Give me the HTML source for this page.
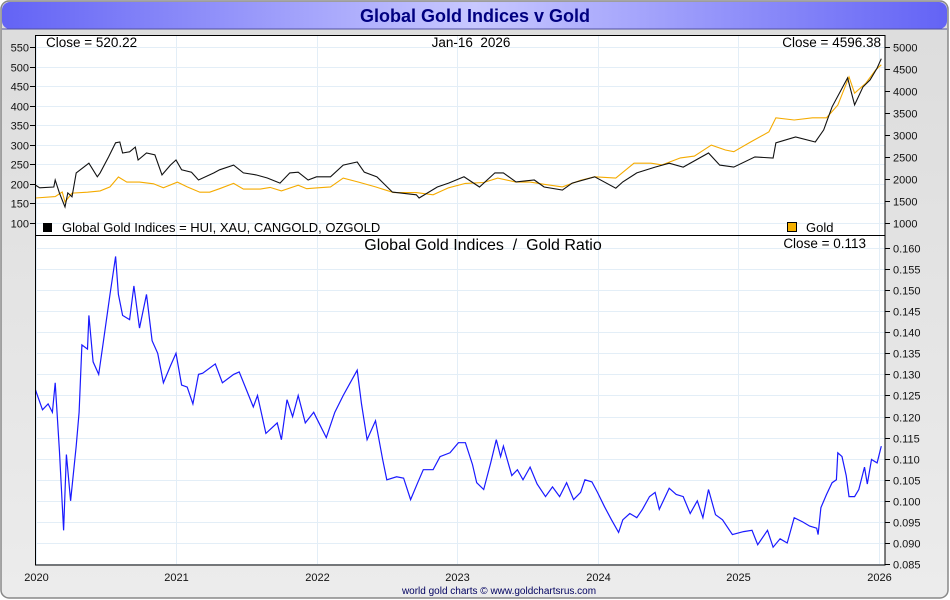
<!DOCTYPE html>
<html><head><meta charset="utf-8"><style>
html,body{margin:0;padding:0;background:#fff;}
svg{display:block;font-family:"Liberation Sans",sans-serif;}
</style></head><body>
<svg id="chart" width="950" height="600" viewBox="0 0 950 600" xmlns="http://www.w3.org/2000/svg">
<defs>
<linearGradient id="tg" x1="0" x2="1" y1="0" y2="0">
<stop offset="0" stop-color="#6363f5"/><stop offset="0.5" stop-color="#c8c8ff"/><stop offset="1" stop-color="#6363f5"/>
</linearGradient>
<linearGradient id="bg" x1="0" x2="0" y1="0" y2="1">
<stop offset="0" stop-color="#dcdcdc"/><stop offset="1" stop-color="#ececec"/>
</linearGradient>
</defs>
<rect x="1" y="1" width="947" height="597" rx="8" fill="url(#bg)" stroke="#888" stroke-width="1.5"/>
<rect x="2" y="2" width="945" height="27" rx="8" fill="url(#tg)"/>
<line x1="2" y1="29" x2="947" y2="29" stroke="#5050a0" stroke-width="1"/>
<text x="475" y="22" text-anchor="middle" font-size="18" font-weight="bold" fill="#000080">Global Gold Indices v Gold</text>
<rect x="35.5" y="35.5" width="849.5" height="529.5" fill="#fff"/>
<g id="grid"></g>
<g id="series"></g>
<rect x="35.5" y="35.5" width="849.5" height="529.5" fill="none" stroke="#000" stroke-width="1"/>
<line x1="35.5" y1="235.5" x2="885" y2="235.5" stroke="#000" stroke-width="1"/>
<g id="axes" font-size="11" fill="#111"></g>
<text x="46" y="47" font-size="13.5" fill="#000">Close = 520.22</text>
<text x="471" y="47" font-size="13.5" text-anchor="middle" fill="#000">Jan-16&#160; 2026</text>
<text x="881" y="47" font-size="13.5" text-anchor="end" fill="#000">Close = 4596.38</text>
<rect x="43" y="223" width="9" height="9" fill="#000"/>
<text x="62" y="232" font-size="13" fill="#000">Global Gold Indices = HUI, XAU, CANGOLD, OZGOLD</text>
<rect x="787.5" y="222.5" width="9" height="9" fill="#f5b000" stroke="#000" stroke-width="1"/>
<text x="806" y="232" font-size="13" fill="#000">Gold</text>
<text x="483" y="250" font-size="16" text-anchor="middle" fill="#000">Global Gold Indices&#160; /&#160; Gold Ratio</text>
<text x="866" y="248" font-size="13.5" text-anchor="end" fill="#000">Close = 0.113</text>
<text x="499" y="594" font-size="10" text-anchor="middle" fill="#000060">world gold charts © www.goldchartsrus.com</text>
</svg>
<script>
const yearTicks = [2020,2021,2022,2023,2024,2025,2026];
const ggiTicks = [100,150,200,250,300,350,400,450,500,550];
const goldTicks = [1000,1500,2000,2500,3000,3500,4000,4500,5000];
const ratioTicks = [0.085,0.090,0.095,0.100,0.105,0.110,0.115,0.120,0.125,0.130,0.135,0.140,0.145,0.150,0.155,0.160];

const goldDates = [2020.00,2020.14,2020.19,2020.21,2020.26,2020.37,2020.46,2020.53,2020.59,2020.65,2020.74,2020.84,2020.91,2021.01,2021.08,2021.17,2021.24,2021.31,2021.41,2021.48,2021.60,2021.67,2021.75,2021.87,2021.93,2022.01,2022.10,2022.19,2022.30,2022.42,2022.55,2022.71,2022.83,2022.94,2023.06,2023.19,2023.29,2023.42,2023.52,2023.62,2023.75,2023.88,2023.98,2024.13,2024.26,2024.38,2024.46,2024.59,2024.69,2024.81,2024.91,2024.97,2025.09,2025.22,2025.27,2025.40,2025.53,2025.63,2025.71,2025.79,2025.83,2025.91,2025.98,2026.02];
const goldValues = [1568,1600,1705,1480,1680,1700,1730,1820,2045,1930,1930,1890,1800,1930,1820,1700,1700,1780,1900,1770,1770,1810,1730,1860,1780,1800,1820,2020,1930,1820,1690,1690,1640,1800,1900,1920,2020,1930,1930,1880,1820,1970,2050,2020,2360,2360,2320,2480,2520,2770,2660,2620,2840,3070,3390,3340,3390,3390,3680,4320,3950,4180,4480,4596];

const ggiDates = [2020.00,2020.03,2020.13,2020.14,2020.17,2020.21,2020.23,2020.26,2020.29,2020.38,2020.44,2020.46,2020.52,2020.57,2020.60,2020.62,2020.67,2020.71,2020.73,2020.79,2020.85,2020.90,2020.96,2021.00,2021.04,2021.11,2021.16,2021.27,2021.31,2021.41,2021.48,2021.57,2021.65,2021.74,2021.81,2021.87,2021.94,2022.00,2022.10,2022.19,2022.29,2022.34,2022.43,2022.54,2022.71,2022.73,2022.86,2022.94,2023.05,2023.16,2023.27,2023.33,2023.42,2023.55,2023.62,2023.75,2023.82,2023.98,2024.13,2024.18,2024.28,2024.41,2024.51,2024.61,2024.79,2024.87,2024.97,2025.12,2025.25,2025.27,2025.41,2025.55,2025.61,2025.67,2025.78,2025.83,2025.89,2025.94,2025.99,2026.02];
const ggiValues = [197,190,192,210,177,141,177,167,228,253,218,228,269,305,307,279,282,294,261,279,274,223,248,261,236,230,210,228,236,248,228,223,215,202,228,230,210,218,218,248,256,230,218,179,172,164,192,202,218,192,228,228,205,210,192,184,202,218,189,205,228,243,253,243,279,248,243,269,266,305,320,307,338,397,471,402,448,466,496,520];

const ratioDates = [2020.00,2020.05,2020.09,2020.12,2020.14,2020.17,2020.20,2020.22,2020.25,2020.29,2020.31,2020.33,2020.37,2020.38,2020.41,2020.45,2020.48,2020.53,2020.57,2020.59,2020.62,2020.67,2020.70,2020.74,2020.79,2020.83,2020.87,2020.91,2020.96,2021.00,2021.04,2021.08,2021.12,2021.16,2021.19,2021.28,2021.33,2021.41,2021.45,2021.51,2021.55,2021.58,2021.64,2021.72,2021.75,2021.79,2021.83,2021.87,2021.92,2021.98,2022.01,2022.07,2022.13,2022.19,2022.24,2022.29,2022.32,2022.36,2022.42,2022.47,2022.50,2022.57,2022.62,2022.67,2022.72,2022.76,2022.83,2022.88,2022.95,2023.01,2023.06,2023.11,2023.14,2023.19,2023.24,2023.28,2023.31,2023.33,2023.39,2023.43,2023.47,2023.52,2023.57,2023.63,2023.68,2023.73,2023.78,2023.83,2023.88,2023.91,2023.96,2024.00,2024.05,2024.10,2024.15,2024.18,2024.23,2024.28,2024.32,2024.37,2024.41,2024.44,2024.51,2024.56,2024.61,2024.66,2024.71,2024.75,2024.79,2024.84,2024.89,2024.96,2025.04,2025.10,2025.14,2025.21,2025.25,2025.30,2025.35,2025.40,2025.46,2025.51,2025.56,2025.57,2025.59,2025.63,2025.67,2025.70,2025.71,2025.74,2025.77,2025.79,2025.83,2025.86,2025.90,2025.92,2025.95,2025.99,2026.02];
const ratioValues = [0.1263,0.1216,0.123,0.121,0.128,0.112,0.093,0.111,0.100,0.113,0.121,0.137,0.136,0.144,0.133,0.130,0.137,0.149,0.158,0.149,0.144,0.143,0.151,0.141,0.149,0.138,0.135,0.128,0.132,0.135,0.1275,0.127,0.123,0.130,0.1303,0.1325,0.128,0.130,0.1306,0.1256,0.1223,0.125,0.116,0.1185,0.1145,0.124,0.120,0.125,0.1185,0.121,0.119,0.115,0.121,0.125,0.128,0.131,0.123,0.1145,0.119,0.110,0.105,0.1057,0.1054,0.1003,0.1043,0.1074,0.1074,0.1105,0.1114,0.1138,0.1138,0.1086,0.1043,0.1027,0.109,0.1145,0.1105,0.113,0.106,0.1074,0.105,0.108,0.104,0.101,0.1033,0.101,0.1043,0.1003,0.102,0.105,0.1045,0.102,0.0986,0.0955,0.0925,0.0955,0.097,0.096,0.098,0.101,0.102,0.098,0.103,0.1015,0.101,0.097,0.100,0.096,0.1027,0.0967,0.0955,0.092,0.0927,0.093,0.0896,0.093,0.089,0.091,0.090,0.096,0.095,0.094,0.0935,0.092,0.0984,0.1015,0.1043,0.105,0.1114,0.1105,0.106,0.101,0.101,0.1027,0.108,0.104,0.1098,0.109,0.113];

const NS = 'http://www.w3.org/2000/svg';
function xScale(yr){ return 35.5 + (yr - 2020) * 140.5; }
function yGgi(v){ return 223 - (v - 100) * 176 / 450; }
function yGold(v){ return 223 - (v - 1000) * 176 / 4000; }
function yRatio(v){ return 248 + (0.160 - v) * 21.07 / 0.005; }
function mk(tag, attrs){ const e = document.createElementNS(NS, tag); for (const k in attrs) e.setAttribute(k, attrs[k]); return e; }

const grid = document.getElementById('grid');
const axes = document.getElementById('axes');
const series = document.getElementById('series');

ggiTicks.forEach(t => {
  const y = Math.round(yGgi(t)) + 0.5;
  const gl = mk('line', {x1:36, x2:885, y1:y, y2:y, stroke:'#e3eef7', 'stroke-width':1});
  
  
  grid.appendChild(gl);
  const tk = mk('line', {x1:30, x2:35.5, y1:y, y2:y, stroke:'#000', 'stroke-width':1});
  
  
  axes.appendChild(tk);
  const lb = mk('text', {x:29, y:y+4, 'text-anchor':'end'});
  lb.textContent = t;
  
  
  axes.appendChild(lb);
});
goldTicks.forEach(t => {
  const y = Math.round(yGold(t)) + 0.5;
  const tk = mk('line', {x1:885, x2:890, y1:y, y2:y, stroke:'#000', 'stroke-width':1});
  
  
  axes.appendChild(tk);
  const lb = mk('text', {x:893, y:y+4});
  lb.textContent = t;
  
  
  axes.appendChild(lb);
});
ratioTicks.forEach(t => {
  const y = Math.round(yRatio(t)) + 0.5;
  const gl = mk('line', {x1:36, x2:885, y1:y, y2:y, stroke:'#e3eef7', 'stroke-width':1});
  
  
  grid.appendChild(gl);
  const tk = mk('line', {x1:885, x2:890, y1:y, y2:y, stroke:'#000', 'stroke-width':1});
  
  
  axes.appendChild(tk);
  const lb = mk('text', {x:893, y:y+4});
  lb.textContent = t.toFixed(3);
  
  
  axes.appendChild(lb);
});
yearTicks.forEach(t => {
  const x = Math.round(xScale(t)) + 0.5;
  const gl = mk('line', {x1:x, x2:x, y1:36, y2:565, stroke:'#e3eef7', 'stroke-width':1});
  
  
  grid.appendChild(gl);
  const lb = mk('text', {x:x, y:581, 'text-anchor':'middle'});
  lb.textContent = t;
  
  
  axes.appendChild(lb);
});

function pathFrom(dates, vals, yf){
  return dates.map((d,i) => (i ? 'L' : 'M') + xScale(d).toFixed(1) + ',' + yf(vals[i]).toFixed(1)).join(' ');
}
const goldPath = mk('path', {d:pathFrom(goldDates, goldValues, yGold), fill:'none', stroke:'#f5ab00', 'stroke-width':1.1});


series.appendChild(goldPath);
const ggiPath = mk('path', {d:pathFrom(ggiDates, ggiValues, yGgi), fill:'none', stroke:'#111', 'stroke-width':1.1});


series.appendChild(ggiPath);
const ratioPath = mk('path', {d:pathFrom(ratioDates, ratioValues, yRatio), fill:'none', stroke:'#1a1aff', 'stroke-width':1.2});


series.appendChild(ratioPath);
</script>
</body></html>
